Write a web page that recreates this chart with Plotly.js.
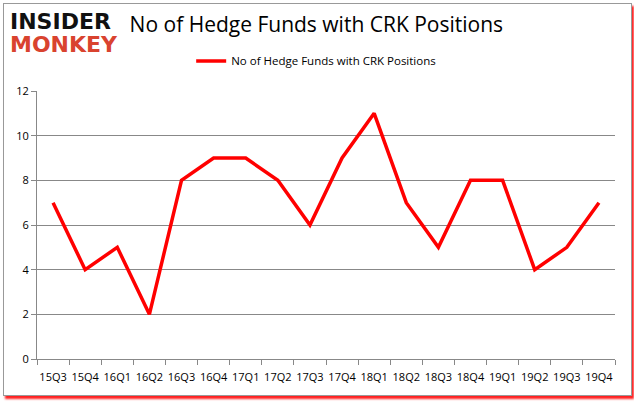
<!DOCTYPE html>
<html><head><meta charset="utf-8">
<script src="https://cdn.plot.ly/plotly-3.0.1.min.js"></script>
<style>html,body{margin:0;padding:0;background:#fff}#c{width:634px;height:404px}</style>
</head><body><div id="c"></div>
<script>
const quarters = ["15Q3","15Q4","16Q1","16Q2","16Q3","16Q4","17Q1","17Q2","17Q3","17Q4","18Q1","18Q2","18Q3","18Q4","19Q1","19Q2","19Q3","19Q4"];
const funds = [7,4,5,2,8,9,9,8,6,9,11,7,5,8,8,4,5,7];
const yTicks = [0,2,4,6,8,10,12];
const seriesName = "No of Hedge Funds with CRK Positions";

const trace = {
  x: quarters, y: funds, type: "scatter", mode: "lines", name: seriesName,
  line: {color: "#ff0000", width: 3.5}
};
const layout = {
  width: 634, height: 404,
  margin: {l: 37, r: 19, t: 91, b: 45},
  paper_bgcolor: "rgba(0,0,0,0)", plot_bgcolor: "rgba(0,0,0,0)",
  font: {family: "Open Sans, DejaVu Sans, sans-serif", size: 11, color: "#000"},
  title: {text: "No of Hedge Funds with CRK Positions", x: 0.499, xanchor: "center", y: 0.94, yanchor: "middle",
          font: {family: "Open Sans, sans-serif", size: 21, color: "#000"}},
  showlegend: true,
  legend: {orientation: "h", x: 0.483, xanchor: "center", y: 1.112, yanchor: "middle", font: {size: 11.5}, bgcolor: "rgba(0,0,0,0)"},
  xaxis: {type: "category", range: [-0.5, 17.5], tickson: "boundaries", ticks: "outside", ticklen: 5, tickcolor: "#888",
          tickangle: 0, ticklabelstandoff: 8, showline: true, linecolor: "#888", linewidth: 1, showgrid: false,
          tickfont: {family: "Liberation Sans Narrow, Open Sans, sans-serif", size: 11}, fixedrange: true},
  yaxis: {range: [0, 12], tickvals: yTicks, ticks: "outside", ticklen: 5, tickcolor: "#888",
          showline: true, linecolor: "#888", showgrid: true, gridcolor: "#888", gridwidth: 1, zeroline: false,
          tickfont: {size: 11}, fixedrange: true},
  annotations: [
    {text: "<b>INSIDER</b>", xref: "paper", yref: "paper", x: -0.05, xanchor: "left", y: 1.26, yanchor: "middle", showarrow: false,
     font: {family: "DejaVu Sans, sans-serif", size: 22, color: "#111"}},
    {text: "<b>MONKEY</b>", xref: "paper", yref: "paper", x: -0.05, xanchor: "left", y: 1.175, yanchor: "middle", showarrow: false,
     font: {family: "DejaVu Sans, sans-serif", size: 22, color: "#d9432f"}}
  ]
};
Plotly.newPlot("c", [trace], layout, {displayModeBar: false, staticPlot: true});
</script>
<div style="position:absolute;left:3px;top:3px;width:627px;height:391px;border:1px solid #999;box-shadow:2px 3px 2px #ff2020;pointer-events:none"></div>
</body></html>
